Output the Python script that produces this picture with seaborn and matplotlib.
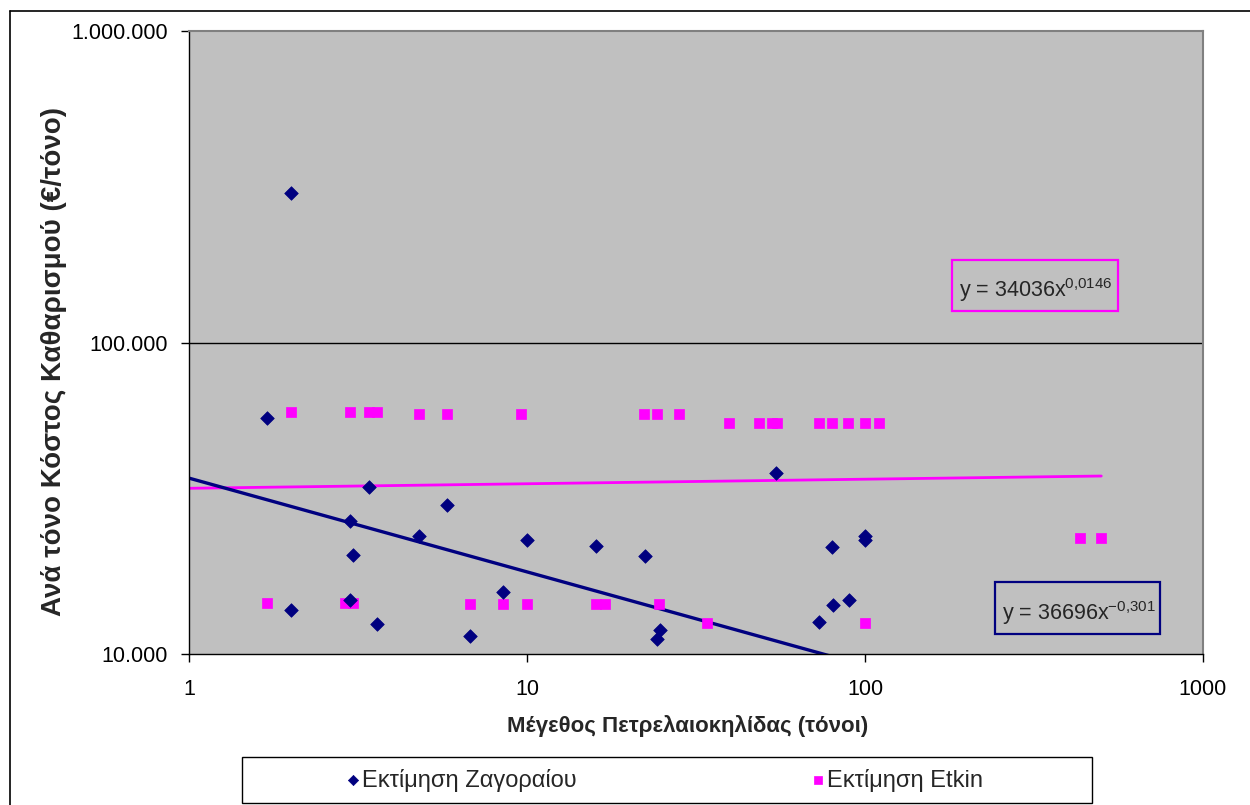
import numpy as np
import pandas as pd
import matplotlib
matplotlib.use("Agg")
import matplotlib.pyplot as plt
import seaborn as sns
from matplotlib.ticker import FixedLocator, FuncFormatter, NullLocator
from matplotlib.patches import Rectangle
from matplotlib.lines import Line2D

# ---------------- data ----------------
zag_label = "Εκτίμηση Ζαγοραίου"
etk_label = "Εκτίμηση Etkin"

zag_x = [1.7, 2, 2, 3, 3, 3.06, 3.4, 3.6, 4.8, 5.8, 6.8, 8.5, 10, 16, 22.3,
         24.2, 24.7, 54.5, 73, 80, 80.5, 89.5, 100, 100]
zag_y = [57200, 302000, 13800, 26700, 14900, 20800, 34400, 12500, 23900, 30100,
         11400, 15800, 23200, 22200, 20600, 11200, 11900, 38100, 12700, 22000,
         14400, 14900, 24000, 23200]

etk_x = [2, 3, 3.4, 3.6, 4.8, 5.8, 9.6, 22.2, 24.2, 28.1,
         39.6, 48.5, 53, 55, 73, 80, 89, 100, 110,
         1.7, 2.9, 3.05, 6.8, 8.5, 10, 16, 17, 24.5,
         34, 100, 432, 500]
etk_y = [60000, 60000, 60000, 60000, 59000, 59000, 59000, 59000, 59000, 59000,
         55300, 55300, 55300, 55300, 55300, 55300, 55300, 55300, 55300,
         14600, 14600, 14600, 14450, 14450, 14450, 14450, 14450, 14450,
         12600, 12600, 23600, 23600]

# power trendlines (coefficients as printed on the chart)
zag_a, zag_b = 36696, -0.301
etk_a, etk_b = 34036, 0.0146
zag_eq = "y = 36696x$^{-0{,}301}$"
etk_eq = "y = 34036x$^{0{,}0146}$"

x_ticks = [1, 10, 100, 1000]
x_ticklabels = ["1", "10", "100", "1000"]
y_ticks = [10000, 100000, 1000000]
y_ticklabels = ["10.000", "100.000", "1.000.000"]
x_title = "Μέγεθος Πετρελαιοκηλίδας (τόνοι)"
y_title = "Ανά τόνο Κόστος Καθαρισμού (€/τόνο)"

NAVY = "#000080"
MAG = "#FF00FF"
BG = "#C0C0C0"

# ---------------- style ----------------
sns.set_theme(style="white")
plt.rcParams["font.family"] = ["Liberation Sans", "DejaVu Sans"]
plt.rcParams["mathtext.fontset"] = "custom"
plt.rcParams["mathtext.rm"] = "Liberation Sans"
plt.rcParams["mathtext.it"] = "Liberation Sans"
plt.rcParams["mathtext.default"] = "regular"

W, H = 1250, 805
fig = plt.figure(figsize=(W / 100, H / 100), dpi=100)
fig.patch.set_facecolor("white")

def fx(px):
    return px / W

def fy(py):
    return 1 - py / H

L, R, T, B = 189, 1203, 31, 654
ax = fig.add_axes([fx(L), fy(B), fx(R - L), (B - T) / H])
ax.set_facecolor(BG)
ax.set_xscale("log")
ax.set_yscale("log")
ax.set_xlim(1, 1000)
ax.set_ylim(1e4, 1e6)

zag_df = pd.DataFrame({"x": zag_x, "y": zag_y})
etk_df = pd.DataFrame({"x": etk_x, "y": etk_y})

# gridline at 100.000
ax.axhline(1e5, color="black", lw=1.0, zorder=1)

# trendlines
zx = np.geomspace(1, max(zag_x), 200)
ex = np.geomspace(1, max(etk_x), 200)
zag_trend = pd.DataFrame({"x": zx, "y": zag_a * zx ** zag_b})
etk_trend = pd.DataFrame({"x": ex, "y": etk_a * ex ** etk_b})
sns.lineplot(data=etk_trend, x="x", y="y", ax=ax, color=MAG, lw=2.0,
             legend=False, zorder=2, estimator=None, sort=False)
sns.lineplot(data=zag_trend, x="x", y="y", ax=ax, color=NAVY, lw=2.4,
             legend=False, zorder=2, estimator=None, sort=False)

# scatter points
sns.scatterplot(data=zag_df, x="x", y="y", ax=ax, marker="D", s=48,
                color=NAVY, edgecolor=NAVY, linewidth=0.5, zorder=4,
                label=zag_label, legend=False)
sns.scatterplot(data=etk_df, x="x", y="y", ax=ax, marker="s", s=52,
                color=MAG, edgecolor=MAG, linewidth=0.5, zorder=3,
                label=etk_label, legend=False)

# axes styling
ax.xaxis.set_major_locator(FixedLocator(x_ticks))
ax.xaxis.set_major_formatter(FuncFormatter(lambda v, p: x_ticklabels[x_ticks.index(round(v))] if round(v) in x_ticks else ""))
ax.yaxis.set_major_locator(FixedLocator(y_ticks))
ax.yaxis.set_major_formatter(FuncFormatter(lambda v, p: y_ticklabels[y_ticks.index(round(v))] if round(v) in y_ticks else ""))
ax.xaxis.set_minor_locator(NullLocator())
ax.yaxis.set_minor_locator(NullLocator())
ax.tick_params(axis="both", which="major", direction="out", length=6,
               width=1, colors="black", labelsize=15.5, left=True, bottom=True)
ax.tick_params(axis="x", pad=12)
ax.tick_params(axis="y", pad=9)
ax.set_xlabel("")
ax.set_ylabel("")
for side in ["left", "bottom"]:
    ax.spines[side].set_color("black")
    ax.spines[side].set_linewidth(1.0)
for side in ["top", "right"]:
    ax.spines[side].set_color("#808080")
    ax.spines[side].set_linewidth(1.5)
    ax.spines[side].set_visible(True)

# axis titles
fig.text(fx(688), fy(726), x_title, ha="center", va="center",
         fontsize=16, fontweight="bold")
fig.text(fx(54), fy(362), y_title, ha="center", va="center",
         rotation=90, fontsize=20, fontweight="bold")

# equation boxes
fig.add_artist(Rectangle((fx(952), fy(311)), fx(166), 51 / H,
                         transform=fig.transFigure, facecolor=BG,
                         edgecolor=MAG, lw=1.6, zorder=5))
fig.text(fx(959), fy(290), etk_eq, ha="left", va="center", fontsize=15.5, zorder=6)
fig.add_artist(Rectangle((fx(995), fy(634)), fx(165), 52 / H,
                         transform=fig.transFigure, facecolor=BG,
                         edgecolor=NAVY, lw=1.6, zorder=5))
fig.text(fx(1002), fy(613), zag_eq, ha="left", va="center", fontsize=15.5, zorder=6)

# legend
fig.add_artist(Rectangle((fx(242), fy(803)), fx(850), 46 / H,
                         transform=fig.transFigure, facecolor="white",
                         edgecolor="black", lw=1.0, zorder=1))
handles, labels = ax.get_legend_handles_labels()
leg = fig.legend(handles, labels, loc="center", bbox_to_anchor=(fx(665), fy(780)),
                 ncol=2, frameon=False, fontsize=17, columnspacing=10.0,
                 handletextpad=0.1, markerscale=0.75, handlelength=0.5)
leg.set_zorder(3)

# outer chart border (top and left visible)
fig.add_artist(Line2D([fx(10), 1.0], [fy(11), fy(11)], transform=fig.transFigure,
                      color="black", lw=1.2))
fig.add_artist(Line2D([fx(10), fx(10)], [fy(11), 0.0], transform=fig.transFigure,
                      color="black", lw=1.2))

fig.savefig("out.png", dpi=100, facecolor="white")
